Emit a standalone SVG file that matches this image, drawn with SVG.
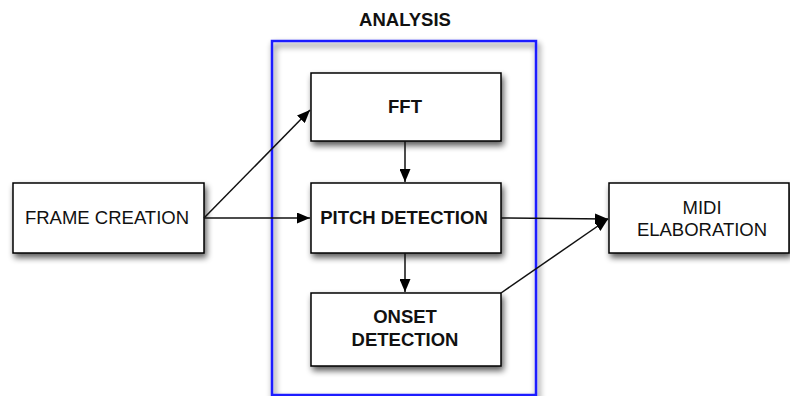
<svg xmlns="http://www.w3.org/2000/svg" width="790" height="396" viewBox="0 0 790 396">
  <defs>
    <filter id="shadow" x="-20%" y="-20%" width="140%" height="150%">
      <feGaussianBlur in="SourceAlpha" stdDeviation="3"/>
      <feOffset dx="2" dy="4" result="b"/>
      <feComponentTransfer><feFuncA type="linear" slope="0.65"/></feComponentTransfer>
      <feMerge><feMergeNode/><feMergeNode in="SourceGraphic"/></feMerge>
    </filter>
    <marker id="arrow" viewBox="0 0 13 11" refX="13" refY="5.5" markerWidth="13" markerHeight="11" markerUnits="userSpaceOnUse" orient="auto">
      <path d="M0,0 L13,5.5 L0,11 Z" fill="#000"/>
    </marker>
  </defs>
  <style>
    .box { fill: #fff; stroke: #000; stroke-width: 1.5; filter: url(#shadow); }
    .frame { fill: none; stroke: #1a1aff; stroke-width: 2.5; filter: url(#shadow); }
    .lbl { font-family: "Liberation Sans", Arial, sans-serif; font-size: 18.5px; fill: #111; text-anchor: middle; }
    .b { font-weight: bold; }
    .edge { stroke: #111; stroke-width: 1.5; fill: none; marker-end: url(#arrow); }
  </style>

  <rect width="790" height="396" fill="#fff"/>

  <g id="analysis">
    <rect class="frame" x="272" y="41" width="264" height="354"/>
    <text class="lbl b" x="405" y="26">ANALYSIS</text>
  </g>

  <g id="frame-creation">
    <rect class="box" x="13" y="183" width="191" height="70"/>
    <text class="lbl" x="107" y="224">FRAME CREATION</text>
  </g>

  <g id="fft">
    <rect class="box" x="311" y="73" width="190" height="68"/>
    <text class="lbl b" x="405" y="113">FFT</text>
  </g>

  <g id="pitch-detection">
    <rect class="box" x="311" y="183" width="190" height="70"/>
    <text class="lbl b" x="404" y="224">PITCH DETECTION</text>
  </g>

  <g id="onset-detection">
    <rect class="box" x="311" y="293" width="190" height="73"/>
    <text class="lbl b" x="405" y="323">ONSET</text>
    <text class="lbl b" x="405" y="346">DETECTION</text>
  </g>

  <g id="midi-elaboration">
    <rect class="box" x="609" y="183" width="180" height="70"/>
    <text class="lbl" x="702" y="214">MIDI</text>
    <text class="lbl" x="702" y="236">ELABORATION</text>
  </g>

  <g id="connectors">
    <line class="edge" x1="204" y1="218" x2="310" y2="110"/>
    <line class="edge" x1="204" y1="218" x2="310" y2="218"/>
    <line class="edge" x1="405" y1="141" x2="405" y2="182"/>
    <line class="edge" x1="405" y1="253" x2="405" y2="292"/>
    <line class="edge" x1="501" y1="218" x2="608" y2="219"/>
    <line class="edge" x1="501" y1="293" x2="608" y2="219"/>
  </g>
</svg>
